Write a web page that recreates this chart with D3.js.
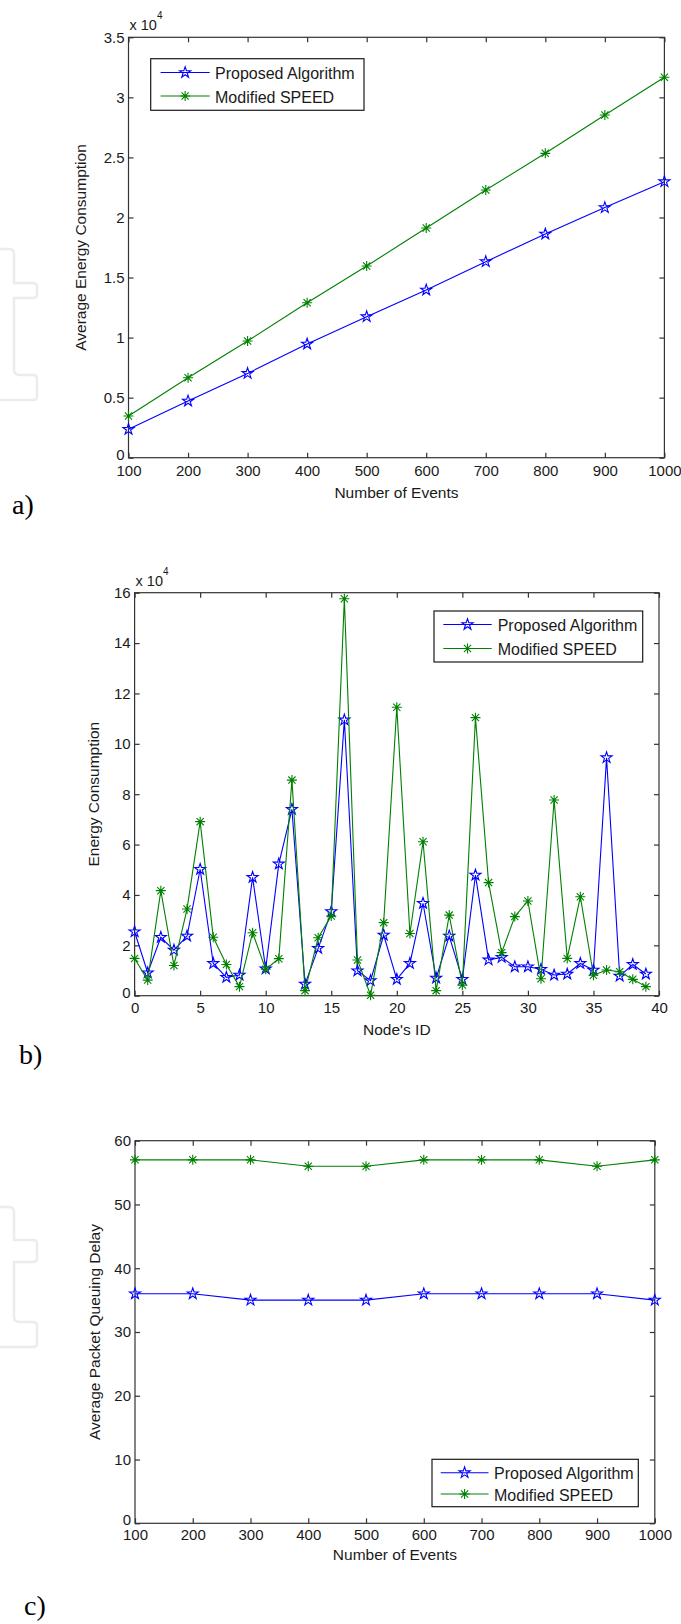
<!DOCTYPE html>
<html><head><meta charset="utf-8">
<script src="https://cdn.jsdelivr.net/npm/d3@7"></script>
<style>body{margin:0;background:#fff}</style>
</head><body>
<svg id="chart" width="681" height="1624" xmlns="http://www.w3.org/2000/svg"></svg>
<script>
// ---------------- DATA ----------------
const seriesNames = ["Proposed Algorithm", "Modified SPEED"];

// a) Average energy consumption vs number of events
const eventCounts = [100, 200, 300, 400, 500, 600, 700, 800, 900, 1000];
const energyProposed = [2360, 4720, 7020, 9460, 11740, 13960, 16320, 18620, 20820, 22980];
const energySpeed = [3470, 6660, 9710, 12900, 15960, 19120, 22290, 25340, 28530, 31670];
const energyYTicks = [0, 5000, 10000, 15000, 20000, 25000, 30000, 35000];
const energyYTickLabels = ["0", "0.5", "1", "1.5", "2", "2.5", "3", "3.5"];
const eventTicks = [100, 200, 300, 400, 500, 600, 700, 800, 900, 1000];

// b) Energy consumption per node
const nodeIds = [0,1,2,3,4,5,6,7,8,9,10,11,12,13,14,15,16,17,18,19,20,21,22,23,24,25,26,27,28,29,30,31,32,33,34,35,36,37,38,39];
const nodeProposed = [25400, 9100, 23200, 18100, 23700, 50200, 12800, 7300, 8200, 47000, 10700, 52300, 74000, 4600, 18800, 33400, 109500, 9900, 6000, 24100, 6500, 12800, 36700, 7000, 23700, 6500, 47900, 14200, 15200, 11500, 11500, 10500, 8200, 8600, 12800, 10200, 94500, 7800, 12400, 8600];
const nodeSpeed = [14800, 6200, 41700, 12000, 34400, 69100, 23200, 12400, 3600, 25000, 10500, 14700, 85600, 2000, 23000, 31600, 157600, 14200, 200, 29000, 114500, 24700, 61100, 2000, 32000, 4200, 110400, 44900, 17100, 31400, 37600, 6700, 77700, 14800, 39300, 8100, 10200, 9500, 6500, 3600];
const nodeXTicks = [0, 5, 10, 15, 20, 25, 30, 35, 40];
const nodeYTicks = [0, 20000, 40000, 60000, 80000, 100000, 120000, 140000, 160000];
const nodeYTickLabels = ["0", "2", "4", "6", "8", "10", "12", "14", "16"];

// c) Average packet queuing delay vs number of events
const delayProposed = [36, 36, 35, 35, 35, 36, 36, 36, 36, 35];
const delaySpeed = [57, 57, 57, 56, 56, 57, 57, 57, 56, 57];
const delayYTicks = [0, 10, 20, 30, 40, 50, 60];

// ---------------- STYLE / LAYOUT ----------------
const COLORS = ["#0000ff", "#008000"];
const FONT = "'Liberation Sans', Arial, Helvetica, sans-serif";
const TEXT = "#1a1a1a";
const svg = d3.select("#chart");

// custom MATLAB-like asterisk symbol
const asteriskSymbol = {
  draw(ctx, size) {
    const r = Math.sqrt(size) / 2;
    const d = r * 0.72;
    ctx.moveTo(0, -r); ctx.lineTo(0, r);
    ctx.moveTo(-r, 0); ctx.lineTo(r, 0);
    ctx.moveTo(-d, -d); ctx.lineTo(d, d);
    ctx.moveTo(-d, d); ctx.lineTo(d, -d);
  }
};
const starPath = d3.symbol().type(d3.symbolStar).size(38)();
const astPath = d3.symbol().type(asteriskSymbol).size(100)();

function watermark(top, barTop, barBot, bottom) {
  const p = d3.path();
  p.moveTo(0, top);
  p.lineTo(9, top);
  p.quadraticCurveTo(14, top, 14, top + 5);
  p.lineTo(14, barTop);
  p.lineTo(33, barTop);
  p.quadraticCurveTo(37, barTop, 37, barTop + 4);
  p.lineTo(37, barBot - 4);
  p.quadraticCurveTo(37, barBot, 33, barBot);
  p.lineTo(14, barBot);
  p.lineTo(14, bottom - 30);
  p.quadraticCurveTo(14, bottom - 25, 20, bottom - 25);
  p.lineTo(33, bottom - 25);
  p.quadraticCurveTo(37, bottom - 25, 37, bottom - 21);
  p.lineTo(37, bottom - 4);
  p.quadraticCurveTo(37, bottom, 33, bottom);
  p.lineTo(0, bottom);
  svg.append("path").attr("d", p.toString())
    .attr("fill", "none").attr("stroke", "#ececec").attr("stroke-width", 2.5);
}
watermark(249, 283, 298, 400);
watermark(1207, 1240, 1262, 1347);

function drawPanel(cfg) {
  const x = d3.scaleLinear().domain(cfg.xDomain).range([cfg.left, cfg.right]);
  const y = d3.scaleLinear().domain(cfg.yDomain).range([cfg.bottom, cfg.top]);
  const g = svg.append("g");

  // box
  g.append("rect").attr("x", cfg.left).attr("y", cfg.top)
    .attr("width", cfg.right - cfg.left).attr("height", cfg.bottom - cfg.top)
    .attr("fill", "#fff").attr("stroke", "#333").attr("stroke-width", 1.2);

  const styleAxis = sel => {
    sel.select(".domain").remove();
    sel.selectAll(".tick line").attr("stroke", "#333").attr("stroke-width", 1.2);
    sel.selectAll(".tick text").attr("fill", TEXT)
      .style("font-family", FONT).style("font-size", "15px");
  };

  g.append("g").attr("transform", `translate(0,${cfg.bottom})`)
    .call(d3.axisBottom(x).tickValues(cfg.xTicks).tickFormat(d3.format("d"))
      .tickSizeInner(-5).tickSizeOuter(0).tickPadding(cfg.xPad))
    .call(styleAxis);
  g.append("g").attr("transform", `translate(0,${cfg.top})`)
    .call(d3.axisTop(x).tickValues(cfg.xTicks).tickFormat("")
      .tickSizeInner(-5).tickSizeOuter(0))
    .call(styleAxis);
  const yAxis = g.append("g").attr("transform", `translate(${cfg.left},0)`)
    .call(d3.axisLeft(y).tickValues(cfg.yTicks)
      .tickFormat((d, i) => cfg.yTickLabels ? cfg.yTickLabels[i] : d)
      .tickSizeInner(-5).tickSizeOuter(0).tickPadding(4))
    .call(styleAxis);
  // the zero label sits slightly up so it only touches the x labels
  yAxis.selectAll(".tick text").filter(d => d === 0).attr("dy", "0.1em");
  g.append("g").attr("transform", `translate(${cfg.right},0)`)
    .call(d3.axisRight(y).tickValues(cfg.yTicks).tickFormat("")
      .tickSizeInner(-5).tickSizeOuter(0))
    .call(styleAxis);

  // exponent label
  if (cfg.exponent) {
    const t = g.append("text").attr("x", cfg.left + 1).attr("y", cfg.top - 7)
      .attr("fill", TEXT).style("font-family", FONT).style("font-size", "14.5px")
      .text("x 10");
    t.append("tspan").attr("dy", -11).style("font-size", "10px").text("4");
  }

  // axis titles
  g.append("text").attr("x", (cfg.left + cfg.right) / 2).attr("y", cfg.xTitleY)
    .attr("text-anchor", "middle").attr("fill", TEXT)
    .style("font-family", FONT).style("font-size", "15.5px").text(cfg.xTitle);
  g.append("text")
    .attr("transform", `translate(${cfg.yTitleX},${(cfg.top + cfg.bottom) / 2}) rotate(-90)`)
    .attr("text-anchor", "middle").attr("fill", TEXT)
    .style("font-family", FONT).style("font-size", "15.5px").text(cfg.yTitle);

  // series
  const line = d3.line().x(d => x(d[0])).y(d => y(d[1]));
  cfg.series.forEach((vals, si) => {
    const pts = cfg.xValues.map((xv, i) => [xv, vals[i]]);
    g.append("path").datum(pts).attr("d", line)
      .attr("fill", "none").attr("stroke", COLORS[si]).attr("stroke-width", 1.1);
    g.selectAll(null).data(pts).enter().append("path")
      .attr("transform", d => `translate(${x(d[0])},${y(d[1])})`)
      .attr("d", si === 0 ? starPath : astPath)
      .attr("fill", "none").attr("stroke", COLORS[si]).attr("stroke-width", 1.1);
  });

  // legend
  const L = cfg.legend;
  g.append("rect").attr("x", L.x0).attr("y", L.y0)
    .attr("width", L.x1 - L.x0).attr("height", L.y1 - L.y0)
    .attr("fill", "#fff").attr("stroke", "#1a1a1a").attr("stroke-width", 1.2);
  seriesNames.forEach((name, si) => {
    const ry = L.rows[si];
    g.append("line").attr("x1", L.lx0).attr("x2", L.lx1).attr("y1", ry).attr("y2", ry)
      .attr("stroke", COLORS[si]).attr("stroke-width", 1.1);
    g.append("path").attr("transform", `translate(${(L.lx0 + L.lx1) / 2},${ry})`)
      .attr("d", si === 0 ? starPath : astPath)
      .attr("fill", "none").attr("stroke", COLORS[si]).attr("stroke-width", 1.1);
    g.append("text").attr("x", L.tx).attr("y", ry + 6.5).attr("fill", TEXT)
      .style("font-family", FONT).style("font-size", "16px").text(name);
  });

  // panel label
  svg.append("text").attr("x", cfg.label.x).attr("y", cfg.label.y).attr("fill", "#000")
    .style("font-family", "'Liberation Serif', 'DejaVu Serif', serif").style("font-size", "28px")
    .text(cfg.label.text);
}

drawPanel({
  left: 128.5, right: 664.4, top: 37.3, bottom: 457.7,
  xDomain: [100, 1000], yDomain: [0, 35000],
  xTicks: eventTicks, yTicks: energyYTicks, yTickLabels: energyYTickLabels,
  xPad: 8, exponent: true,
  xValues: eventCounts, series: [energyProposed, energySpeed],
  xTitle: "Number of Events", xTitleY: 498,
  yTitle: "Average Energy Consumption", yTitleX: 86,
  legend: { x0: 150.7, x1: 364, y0: 58.7, y1: 110.3, rows: [72.5, 96], lx0: 160.6, lx1: 209.7, tx: 215 },
  label: { text: "a)", x: 12, y: 514 }
});

drawPanel({
  left: 134.6, right: 659, top: 592.7, bottom: 995.7,
  xDomain: [0, 40], yDomain: [0, 160000],
  xTicks: nodeXTicks, yTicks: nodeYTicks, yTickLabels: nodeYTickLabels,
  xPad: 7, exponent: true,
  xValues: nodeIds, series: [nodeProposed, nodeSpeed],
  xTitle: "Node's ID", xTitleY: 1035,
  yTitle: "Energy Consumption", yTitleX: 99,
  legend: { x0: 434, x1: 642.7, y0: 611, y1: 662, rows: [624.5, 648.5], lx0: 443.3, lx1: 491.7, tx: 497.7 },
  label: { text: "b)", x: 19, y: 1064 }
});

drawPanel({
  left: 135, right: 654.8, top: 1140.7, bottom: 1523.3,
  xDomain: [100, 1000], yDomain: [0, 60],
  xTicks: eventTicks, yTicks: delayYTicks, yTickLabels: null,
  xPad: 6, exponent: false,
  xValues: eventCounts, series: [delayProposed, delaySpeed],
  xTitle: "Number of Events", xTitleY: 1560,
  yTitle: "Average Packet Queuing Delay", yTitleX: 99.5,
  legend: { x0: 432, x1: 638.3, y0: 1459.3, y1: 1506.7, rows: [1472.7, 1494], lx0: 440.7, lx1: 488.5, tx: 494 },
  label: { text: "c)", x: 24, y: 1615 }
});
</script>
</body></html>
